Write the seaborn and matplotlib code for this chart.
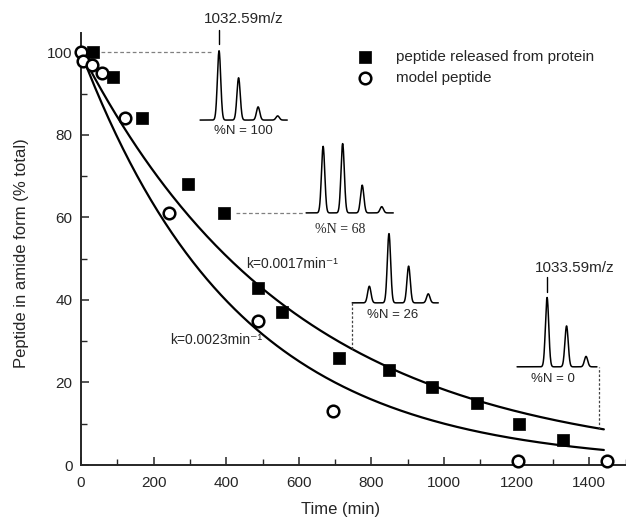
import numpy as np
import pandas as pd
import matplotlib
matplotlib.use("Agg")
import matplotlib.pyplot as plt
import seaborn as sns
from matplotlib.ticker import MultipleLocator

# measured amide fraction vs time
protein_time = [33, 88, 168, 295, 395, 488, 554, 711, 847, 967, 1091, 1206, 1328]
protein_amide = [100, 94, 84, 68, 61, 43, 37, 26, 23, 19, 15, 10, 6]
model_time = [0, 5, 30, 58, 120, 241, 487, 693, 1203, 1448]
model_amide = [100, 98, 97, 95, 84, 61, 35, 13, 1, 1]

series_names = ["peptide released from protein", "model peptide"]

# first-order fits (rate constants from the figure)
rate_k = [0.0017, 0.0023]
rate_labels = ["k=0.0017min\u207b\u00b9", "k=0.0023min\u207b\u00b9"]
fit_end = 1440

# isotope envelopes (relative peak heights)
peak_mz = [1032.59, 1033.59, 1034.59, 1035.59]
spec_n100 = [100, 61, 19, 6]
spec_n68 = [96, 100, 40, 9]
spec_n26 = [24, 100, 53, 13]
spec_n0 = [0, 100, 59, 15]
spec_labels = ["%N = 100", "%N = 68", "%N = 26", "%N = 0"]
mass_labels = ["1032.59m/z", "1033.59m/z"]

sns.set_style("ticks")
plt.rcParams["font.family"] = ["Liberation Sans", "DejaVu Sans"]

fig = plt.figure(figsize=(6.26, 5.27), dpi=100)
ax = fig.add_axes([0.1294, 0.1176, 0.8706, 0.8198])

# fit curves
t = np.linspace(0, fit_end, 300)
fits = pd.concat([pd.DataFrame({"time": t, "amide": 100 * np.exp(-k * t), "fit": lab})
                  for k, lab in zip(rate_k, rate_labels)])
sns.lineplot(data=fits, x="time", y="amide", units="fit", estimator=None,
             color="black", lw=1.6, ax=ax, legend=False)

# points
prot = pd.DataFrame({"time": protein_time, "amide": protein_amide})
model = pd.DataFrame({"time": model_time, "amide": model_amide})
sns.scatterplot(data=prot, x="time", y="amide", marker="s", s=80, color="black",
                edgecolor="black", linewidth=0.5, ax=ax, label=series_names[0],
                clip_on=False, zorder=5)
sns.scatterplot(data=model, x="time", y="amide", marker="o", s=70, facecolor="white",
                edgecolor="black", linewidth=1.8, ax=ax, label=series_names[1],
                clip_on=False, zorder=5)

ax.set_xlim(0, 1501)
ax.set_ylim(0, 104.7)
ax.xaxis.set_major_locator(MultipleLocator(200))
ax.xaxis.set_minor_locator(MultipleLocator(100))
ax.yaxis.set_major_locator(MultipleLocator(20))
ax.yaxis.set_minor_locator(MultipleLocator(10))
ax.tick_params(which="major", direction="in", length=6, width=1.1, labelsize=11, pad=8)
ax.tick_params(axis="y", which="major", pad=6)
ax.tick_params(which="minor", direction="in", length=4, width=1.0)
sns.despine(ax=ax)
for s in ["left", "bottom"]:
    ax.spines[s].set_linewidth(1.4)

ax.set_xlabel("Time (min)", fontsize=12)
ax.set_ylabel("Peptide in amide form (% total)", fontsize=12)
ax.xaxis.set_label_coords(0.477, -0.086)
ax.yaxis.set_label_coords(-0.096, 0.49)

ax.text(581, 48.7, rate_labels[0], fontsize=10, ha="center", va="center")
ax.text(372, 30.3, rate_labels[1], fontsize=10, ha="center", va="center")

leg = ax.legend(loc="upper left", bbox_to_anchor=(0.571, 0.905), bbox_transform=fig.transFigure,
                frameon=False, fontsize=11, handlelength=1.0, handletextpad=1.5,
                borderaxespad=0, borderpad=0, labelspacing=0.45)

# spectra insets: [t0, v0, width, height], m/z range relative to the first isotope
insets = [
    (spec_n100, [328, 83.6, 240, 16.8], (-0.97, 3.49)),
    (spec_n68, [620, 61.1, 240, 16.8], (-0.87, 3.59)),
    (spec_n26, [747, 39.3, 237, 16.8], (-0.87, 3.51)),
    (spec_n0, [1201, 23.8, 220, 16.8], (-0.54, 3.56)),
]
rel_mz = [p - peak_mz[0] for p in peak_mz]
for heights, box, (lo, hi) in insets:
    iax = ax.inset_axes(box, transform=ax.transData)
    mz = np.linspace(lo, hi, 400)
    inten = sum(h * np.exp(-(mz - p) ** 2 / (2 * 0.085 ** 2)) for h, p in zip(heights, rel_mz))
    sns.lineplot(x=mz, y=inten, ax=iax, color="black", lw=1.1, clip_on=False)
    iax.set_xlim(lo, hi)
    iax.set_ylim(0, 100)
    iax.set_xticks([])
    iax.set_yticks([])
    iax.axis("off")

ax.text(446, 81.0, spec_labels[0], fontsize=9.5, ha="center", va="center")
ax.text(714, 57.0, spec_labels[1], fontsize=10, ha="center", va="center", family="Liberation Serif")
ax.text(857, 36.4, spec_labels[2], fontsize=9.5, ha="center", va="center")
ax.text(1301, 20.8, spec_labels[3], fontsize=9.5, ha="center", va="center")

ax.text(449, 108.1, mass_labels[0], fontsize=11, ha="center", va="center")
ax.text(1361, 47.8, mass_labels[1], fontsize=11, ha="center", va="center")
ax.plot([380, 380], [102.1, 105.5], color="black", lw=1, clip_on=False)
ax.plot([1284, 1284], [41.9, 45.6], color="black", lw=1, clip_on=False)

# dashed connectors
ax.plot([55, 364], [100, 100], ls=(0, (3, 2)), color="grey", lw=0.9)
ax.plot([427, 612], [61, 61], ls=(0, (3, 2)), color="grey", lw=0.9)
ax.plot([747, 747], [28.1, 39.3], ls=(0, (2, 1.5)), color="#444444", lw=0.9)
ax.plot([1427, 1427], [8.8, 23.8], ls=(0, (2, 1.5)), color="#444444", lw=0.9)

fig.savefig("out.png", dpi=100)
